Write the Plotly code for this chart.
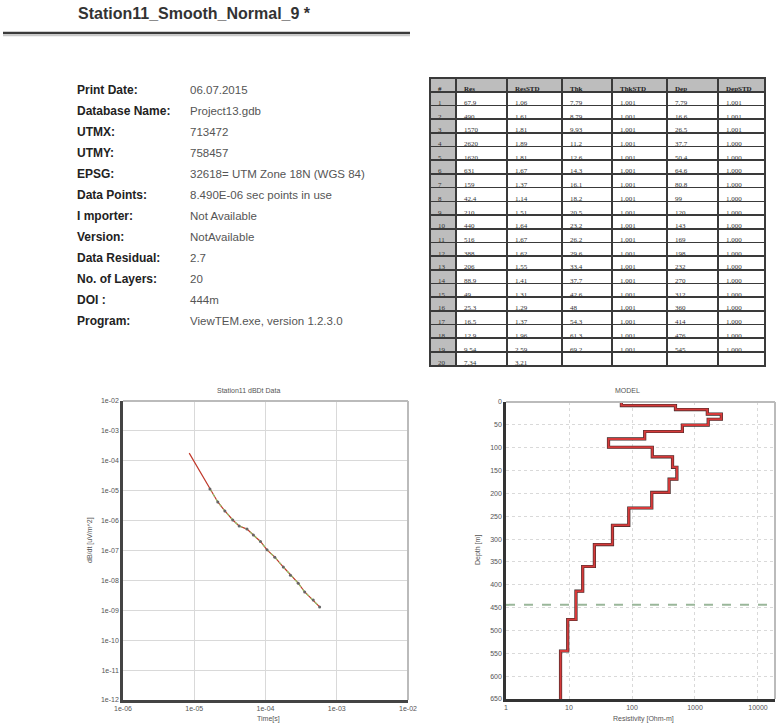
import plotly.graph_objects as go

W, H = 778, 725

# ---------------- data ----------------
title_text = "Station11_Smooth_Normal_9 *"
info_labels = ["Print Date:", "Database Name:", "UTMX:", "UTMY:", "EPSG:", "Data Points:",
               "I mporter:", "Version:", "Data Residual:", "No. of Layers:", "DOI :", "Program:"]
info_values = ["06.07.2015", "Project13.gdb", "713472", "758457", "32618= UTM Zone 18N (WGS 84)",
               "8.490E-06 sec points in use", "Not Available", "NotAvailable", "2.7", "20",
               "444m", "ViewTEM.exe, version 1.2.3.0"]

layer_no = list(range(1, 21))
res = [67.9, 490, 1570, 2620, 1620, 631, 159, 42.4, 210, 440, 516, 388, 206, 88.9, 49, 25.3, 16.5, 12.9, 9.54, 7.34]
res_std = [1.06, 1.61, 1.81, 1.89, 1.81, 1.67, 1.37, 1.14, 1.51, 1.64, 1.67, 1.62, 1.55, 1.41, 1.31, 1.29, 1.37, 1.96, 2.59, 3.21]
thk = [7.79, 8.79, 9.93, 11.2, 12.6, 14.3, 16.1, 18.2, 20.5, 23.2, 26.2, 29.6, 33.4, 37.7, 42.6, 48, 54.3, 61.3, 69.2]
thk_std = [1.001] * 19
dep = [7.79, 16.6, 26.5, 37.7, 50.4, 64.6, 80.8, 99, 120, 143, 169, 198, 232, 270, 312, 360, 414, 476, 545]
dep_std = [1.001, 1.001, 1.001] + [1.000] * 16
doi = 444

time_s = [8.5e-6, 1.66e-5, 2.14e-5, 2.69e-5, 3.47e-5, 4.27e-5, 5.5e-5, 6.76e-5, 8.5e-5,
          1.05e-4, 1.35e-4, 1.78e-4, 2.24e-4, 2.88e-4, 3.55e-4, 4.68e-4, 5.75e-4]
dbdt = [1.8e-4, 1.15e-5, 4.2e-6, 2.1e-6, 1.05e-6, 6.6e-7, 5.2e-7, 3.3e-7, 2.0e-7,
        1.05e-7, 6.0e-8, 2.8e-8, 1.5e-8, 8.1e-9, 4.1e-9, 2.2e-9, 1.3e-9]

left_xticks = [1e-6, 1e-5, 1e-4, 1e-3, 1e-2]
left_xlabels = ["1e-06", "1e-05", "1e-04", "1e-03", "1e-02"]
left_yticks = [1e-12, 1e-11, 1e-10, 1e-9, 1e-8, 1e-7, 1e-6, 1e-5, 1e-4, 1e-3, 1e-2]
left_ylabels = ["1e-12", "1e-11", "1e-10", "1e-09", "1e-08", "1e-07", "1e-06", "1e-05", "1e-04", "1e-03", "1e-02"]
right_xticks = [1, 10, 100, 1000, 10000]
right_xlabels = ["1", "10", "100", "1000", "10000"]
depth_ticks = list(range(0, 651, 50))
depth_max = 650


def px(x):
    return x / W


def py(y):
    return 1 - y / H


fig = go.Figure()

# ---------------- table ----------------
header = ["#", "Res", "ResSTD", "Thk", "ThkSTD", "Dep", "DepSTD"]
col_vals = [
    [str(n) for n in layer_no],
    [format(v, "g") for v in res],
    [format(v, ".2f") for v in res_std],
    [format(v, "g") for v in thk] + [""],
    [format(v, ".3f") for v in thk_std] + [""],
    [format(v, "g") for v in dep] + [""],
    [format(v, ".3f") for v in dep_std] + [""],
]
grey = "#bdbdbd"
fills = [[grey] * 20] + [["white"] * 20 for _ in range(6)]
fig.add_trace(go.Table(
    domain=dict(x=[px(430), px(766)], y=[py(372), py(78)]),
    columnwidth=[26, 51, 55, 50, 55, 51, 47],
    header=dict(values=header, height=13.7, fill_color=grey,
                line=dict(color="#3a3a3a", width=1.6), align="left",
                font=dict(family="Liberation Serif", size=7, color="#222", weight="bold")),
    cells=dict(values=col_vals, fill_color=fills,
               line=dict(color="#3a3a3a", width=1.6), align="left", height=13.7,
               font=dict(family="Liberation Serif", size=7, color="#333")),
))

# ---------------- left plot (dB/dt) ----------------
fig.add_trace(go.Scatter(x=time_s, y=dbdt, mode="lines", line=dict(color="#c0392b", width=1.2),
                         xaxis="x", yaxis="y", showlegend=False))
fig.add_trace(go.Scatter(x=time_s[1:], y=dbdt[1:], mode="lines+markers",
                         line=dict(color="#8fc46a", width=1.2, dash="dot"),
                         marker=dict(size=3, color="#666"),
                         xaxis="x", yaxis="y", showlegend=False))

# ---------------- right plot (model) ----------------
tops = [0] + dep
prof_x = res + [res[-1]]
prof_y = tops + [depth_max]
fig.add_trace(go.Scatter(x=prof_x, y=prof_y, mode="lines", line=dict(color="#3a2a2a", width=3.2, shape="vh"),
                         xaxis="x2", yaxis="y2", showlegend=False))
fig.add_trace(go.Scatter(x=prof_x, y=prof_y, mode="lines", line=dict(color="#d63a3a", width=2, shape="vh"),
                         xaxis="x2", yaxis="y2", showlegend=False))

tickfont = dict(family="Liberation Sans", size=7, color="#555")
grid = "#d9d9d9"
fig.update_layout(
    width=W, height=H, autosize=False, margin=dict(l=0, r=0, t=0, b=0, autoexpand=False),
    paper_bgcolor="white", plot_bgcolor="white",
    xaxis=dict(type="log", range=[-6, -2], domain=[px(123), px(408)], anchor="y",
               tickvals=left_xticks, ticktext=left_xlabels, tickfont=tickfont,
               showgrid=True, gridcolor=grid, gridwidth=1,
               showline=True, linecolor="#444", linewidth=2.5, ticks="", zeroline=False),
    yaxis=dict(type="log", range=[-12, -2], domain=[py(700), py(401)], anchor="x",
               tickvals=left_yticks, ticktext=left_ylabels, tickfont=tickfont,
               showgrid=True, gridcolor=grid, gridwidth=1,
               showline=True, linecolor="#444", linewidth=2.5, ticks="", zeroline=False),
    xaxis2=dict(type="log", range=[0, 4.27], domain=[px(506), px(775)], anchor="y2",
                tickvals=right_xticks, ticktext=right_xlabels, tickfont=tickfont,
                showgrid=True, gridcolor=grid, gridwidth=1, griddash="dot",
                showline=True, linecolor="#333", linewidth=2.5, ticks="", zeroline=False),
    yaxis2=dict(range=[depth_max, 0], domain=[py(699), py(402)], anchor="x2",
                tickvals=depth_ticks, tickfont=tickfont,
                showgrid=True, gridcolor=grid, gridwidth=1, griddash="dot",
                showline=True, linecolor="#333", linewidth=2.5, ticks="", zeroline=False),
)

# top/right frame lines
for xr, yr in (("x", "y"), ("x2", "y2")):
    fig.add_shape(type="line", xref=xr + " domain", yref=yr + " domain", x0=0, x1=1, y0=1, y1=1,
                  line=dict(color="#bbbbbb", width=2))
    fig.add_shape(type="line", xref=xr + " domain", yref=yr + " domain", x0=1, x1=1, y0=0, y1=1,
                  line=dict(color="#bbbbbb", width=2))

# DOI line
fig.add_shape(type="line", xref="x2 domain", yref="y2", x0=0, x1=1, y0=doi, y1=doi,
              line=dict(color="#9ab79a", width=2, dash="dash"))

# title + rule
fig.add_annotation(x=px(76), y=py(14), xref="paper", yref="paper", xanchor="left", yanchor="middle",
                   text="<b>%s</b>" % title_text, showarrow=False,
                   font=dict(family="Liberation Sans", size=16, color="#333"))
fig.add_shape(type="line", xref="paper", yref="paper", x0=px(3), x1=px(410), y0=py(33), y1=py(33),
              line=dict(color="#3a3a3a", width=2.5))
fig.add_shape(type="line", xref="paper", yref="paper", x0=px(3), x1=px(410), y0=py(35.5), y1=py(35.5),
              line=dict(color="#c8c8c8", width=1.5))

# info block
for i, (lab, val) in enumerate(zip(info_labels, info_values)):
    yc = 90 + i * 21
    fig.add_annotation(x=px(75), y=py(yc), xref="paper", yref="paper", xanchor="left", yanchor="middle",
                       text="<b>%s</b>" % lab, showarrow=False,
                       font=dict(family="Liberation Sans", size=12, color="#222"))
    fig.add_annotation(x=px(188), y=py(yc), xref="paper", yref="paper", xanchor="left", yanchor="middle",
                       text=val, showarrow=False,
                       font=dict(family="Liberation Sans", size=11.5, color="#555"))

# plot titles and axis labels
small = dict(family="Liberation Sans", size=7, color="#555")
for x, y, t, ang in [(248, 390, "Station11 dBDt Data", 0), (627, 390, "MODEL", 0),
                     (268, 719, "Time[s]", 0), (643, 719, "Resistivity [Ohm-m]", 0),
                     (90, 540, "dB/dt [uV/m^2]", -90), (478, 550, "Depth [m]", -90)]:
    fig.add_annotation(x=px(x), y=py(y), xref="paper", yref="paper", xanchor="center", yanchor="middle",
                       text=t, showarrow=False, textangle=ang, font=small)

fig.write_html("out.html", config={"displayModeBar": False},
               post_script="document.body.style.margin='0';document.body.style.padding='0';")
